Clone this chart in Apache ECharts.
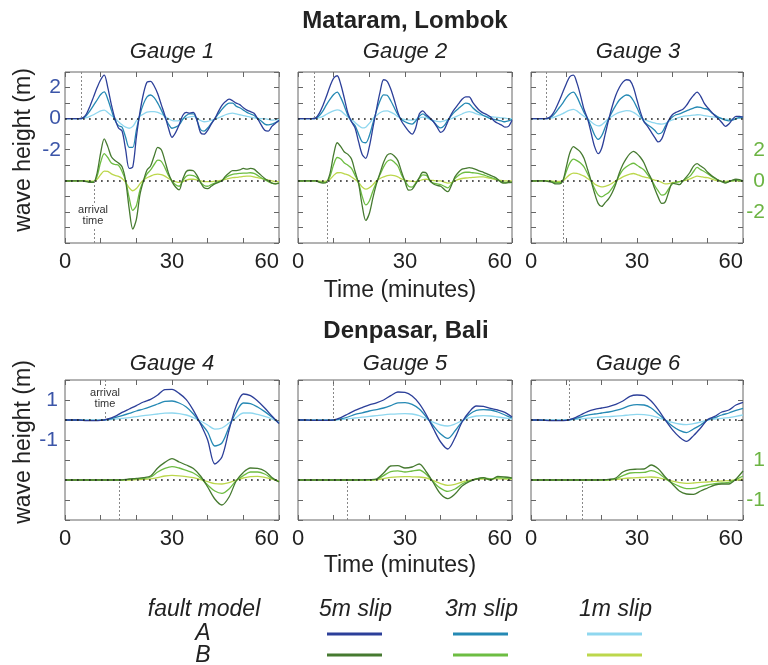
<!DOCTYPE html>
<html>
<head>
<meta charset="utf-8">
<script src="https://cdn.jsdelivr.net/npm/echarts@6/dist/echarts.min.js"></script>
<style>
  html, body { margin: 0; padding: 0; background: #fff; }
  #chart { width: 768px; height: 665px; }
</style>
</head>
<body>
<div id="chart"></div>
<script>
// time axes (minutes)
const timeTop = [0,1,2,3,4,5,6,7,8,9,10,11,12,13,14,15,16,17,18,19,20,21,22,23,24,25,26,27,28,29,30,
  31,32,33,34,35,36,37,38,39,40,41,42,43,44,45,46,47,48,49,50,51,52,53,54,55,56,57,58,59,60];
const timeBottom = [0,2,4,6,8,10,12,14,16,18,20,22,24,26,28,30,32,34,36,38,40,42,44,46,48,50,52,54,56,58,60];

// ---- Mataram, Lombok ----
const g1A5 = [0,0,0,0,0, 0.05,0.3,0.8,1.4,2.0,2.5, 2.8,2.0,0.9,0.0,-0.6,-0.8,-2.0,-3.2,-3.1,-1.2,
  0.4,1.6,2.35,2.4,2.1,1.6,0.9,0.2,-0.6,-1.2, -0.9,-0.4,0.2,0.4,0.35,0.4,-0.1,-0.9,-1.0,-0.75,
  -0.35,0.0,0.45,0.85,1.1,1.25,1.15,1.0,0.9,0.7, 0.55,0.45,0.35,0.0,-0.4,-0.75,-0.8,-0.5,-0.3,-0.1];
const g1A3 = [0,0,0,0,0, 0.03,0.2,0.5,0.85,1.2,1.55, 1.72,1.25,0.55,-0.1,-0.45,-0.55,-1.2,-1.85,-1.85,-0.75,
  0.25,0.95,1.4,1.52,1.35,1.0,0.55,0.1,-0.35,-0.62, -0.55,-0.4,-0.05,0.2,0.3,0.3,-0.1,-0.7,-0.8,-0.6,
  -0.3,0.0,0.3,0.6,0.85,1.0,1.0,0.8,0.7,0.55, 0.4,0.3,0.2,0.0,-0.15,-0.35,-0.4,-0.35,-0.25,-0.15];
const g1A1 = [0,0,0,0,0, 0.01,0.06,0.15,0.25,0.38,0.5, 0.55,0.4,0.2,0.02,-0.2,-0.4,-0.55,-0.62,-0.5,-0.15,
  0.15,0.3,0.42,0.45,0.45,0.4,0.3,0.15,0.0,-0.12, -0.15,-0.12,-0.02,0.05,0.12,0.15,0.05,-0.12,-0.2,-0.18,
  -0.1,-0.05,0.05,0.15,0.25,0.32,0.35,0.3,0.25,0.2, 0.15,0.1,0.05,0.02,0.0,0.0,-0.05,-0.1,-0.08,-0.05];
const g1B5 = [0,0,0,0,0,0, -0.05,-0.1,-0.1,0.5,1.8, 2.7,2.2,1.55,1.3,1.15,0.9,0.0,-1.8,-3.1,-2.5,
  -0.9,0.0,0.7,0.95,1.6,2.15,2.0,1.3,0.5,-0.05, -0.4,-0.58,0.1,0.6,0.68,0.65,0.35,-0.1,-0.45,-0.5,
  -0.35,-0.2,-0.1,0.0,0.3,0.5,0.65,0.65,0.7,0.8, 0.75,0.8,0.75,0.55,0.35,0.15,0.0,-0.15,-0.2,-0.15];
const g1B3 = [0,0,0,0,0,0, -0.03,-0.06,-0.06,0.3,1.2, 1.75,1.5,1.15,1.05,1.0,0.6,0.0,-1.1,-1.9,-1.6,
  -0.6,0.0,0.45,0.7,1.05,1.33,1.25,0.85,0.35,0.0, -0.25,-0.35,0.0,0.3,0.36,0.33,0.2,-0.1,-0.3,-0.35,
  -0.25,-0.15,-0.05,0.0,0.2,0.33,0.42,0.45,0.48,0.5, 0.5,0.52,0.48,0.35,0.2,0.08,-0.05,-0.15,-0.2,-0.15];
const g1B1 = [0,0,0,0,0,0, 0,-0.02,-0.02,0.1,0.4, 0.62,0.6,0.45,0.35,0.28,0.15,-0.1,-0.45,-0.64,-0.5,
  -0.2,0.05,0.2,0.3,0.4,0.43,0.4,0.3,0.15,0.02, -0.05,-0.1,-0.05,0.05,0.1,0.1,0.05,0.0,-0.05,-0.05,
  -0.05,-0.02,0.0,0.05,0.1,0.15,0.2,0.22,0.25,0.28, 0.3,0.3,0.25,0.2,0.15,0.1,0.05,0.0,-0.05,-0.05];

const g2A5 = [0,0,0,0,0, 0.05,0.35,0.85,1.45,2.1,2.6, 2.76,2.2,1.3,0.35,-0.2,-0.6,-1.5,-2.3,-2.55,-1.8,
  -0.6,0.6,1.7,2.5,2.4,1.9,1.2,0.4,-0.15,-0.5, -0.8,-1.0,-0.6,0.3,0.5,0.25,0.05,-0.2,-0.55,-0.88,
  -0.7,-0.2,0.3,0.65,0.95,1.25,1.4,1.4,1.05,0.75, 0.5,0.35,0.25,0.1,-0.15,-0.3,-0.4,-0.55,-0.5,-0.1];
const g2A3 = [0,0,0,0,0, 0.03,0.2,0.5,0.9,1.25,1.55, 1.7,1.35,0.8,0.2,-0.2,-0.45,-1.0,-1.5,-1.55,-1.1,
  -0.3,0.5,1.15,1.53,1.5,1.15,0.7,0.25,-0.05,-0.2, -0.3,-0.35,-0.15,0.15,0.3,0.15,0.0,-0.2,-0.45,-0.6,
  -0.45,-0.1,0.2,0.45,0.65,0.85,1.0,0.95,0.7,0.5, 0.35,0.2,0.1,0.0,-0.05,-0.1,-0.15,-0.2,-0.15,-0.05];
const g2A1 = [0,0,0,0,0, 0.01,0.06,0.15,0.28,0.4,0.5, 0.56,0.5,0.3,0.1,-0.05,-0.25,-0.45,-0.6,-0.55,-0.3,
  0.0,0.2,0.38,0.48,0.5,0.42,0.3,0.12,0.0,-0.06, -0.1,-0.1,-0.05,0.05,0.1,0.05,-0.05,-0.12,-0.18,-0.2,
  -0.15,-0.05,0.0,0.1,0.2,0.3,0.4,0.45,0.4,0.3, 0.25,0.2,0.15,0.12,0.1,0.08,0.05,0.03,0.0,0.0];
const g2B5 = [0,0,0,0,0,0, -0.1,-0.15,-0.1,0.5,1.7, 2.45,2.2,1.85,1.7,1.4,0.6,-0.2,-1.6,-2.55,-2.1,
  -1.1,-0.2,0.5,1.2,1.65,1.75,1.6,1.3,0.6,-0.05, -0.6,-0.55,-0.2,0.2,0.55,0.5,0.0,-0.2,-0.3,-0.35,
  -0.55,-0.7,-0.3,0.25,0.55,0.75,0.8,0.85,0.8,0.72, 0.62,0.55,0.45,0.35,0.25,0.1,-0.1,-0.15,-0.12,-0.1];
const g2B3 = [0,0,0,0,0,0, -0.05,-0.1,-0.08,0.3,1.05, 1.5,1.4,1.15,1.0,0.8,0.35,-0.15,-1.0,-1.55,-1.3,
  -0.65,-0.1,0.4,0.9,1.25,1.35,1.2,0.95,0.4,0.0, -0.35,-0.4,-0.15,0.15,0.38,0.35,0.0,-0.15,-0.2,-0.25,
  -0.35,-0.45,-0.2,0.15,0.35,0.5,0.55,0.55,0.52,0.5, 0.45,0.38,0.3,0.22,0.15,0.05,-0.05,-0.1,-0.1,-0.1];
const g2B1 = [0,0,0,0,0,0, -0.02,-0.03,-0.02,0.1,0.35, 0.52,0.53,0.45,0.38,0.25,0.08,-0.1,-0.4,-0.54,-0.45,
  -0.25,0.0,0.15,0.25,0.33,0.36,0.33,0.25,0.12,0.05, 0.0,-0.03,-0.05,0.0,0.08,0.1,0.05,0.02,0.0,0.0,
  -0.08,-0.15,-0.12,0.0,0.1,0.15,0.18,0.2,0.22,0.24, 0.25,0.25,0.2,0.15,0.1,0.05,0.02,0.0,0.0,0.0];

const g3A5 = [0,0,0,0,0, 0.05,0.25,0.65,1.15,1.7,2.25, 2.7,2.8,2.3,1.5,0.6,0.0,-0.9,-1.8,-2.25,-1.9,
  -1.0,-0.05,0.8,1.5,2.0,2.35,2.5,2.45,2.0,1.2, 0.4,-0.2,-0.5,-0.85,-1.2,-1.5,-1.3,-0.7,-0.1,0.25,
  0.4,0.5,0.6,0.85,1.2,1.5,1.7,1.45,1.0,0.7, 0.45,0.2,0.0,-0.25,-0.5,-0.35,-0.05,0.15,0.15,0.1];
const g3A3 = [0,0,0,0,0, 0.03,0.15,0.4,0.7,1.0,1.35, 1.6,1.7,1.4,0.9,0.4,0.0,-0.5,-1.05,-1.33,-1.1,
  -0.55,0.0,0.45,0.85,1.2,1.4,1.52,1.45,1.15,0.7, 0.2,-0.2,-0.4,-0.55,-0.75,-0.98,-0.9,-0.5,-0.1,0.1,
  0.25,0.3,0.4,0.5,0.6,0.68,0.75,0.72,0.65,0.6, 0.4,0.25,0.1,0.0,-0.1,-0.15,-0.1,0.0,0.08,0.1];
const g3A1 = [0,0,0,0,0, 0.01,0.05,0.13,0.22,0.32,0.45, 0.55,0.6,0.5,0.32,0.15,0.0,-0.2,-0.38,-0.47,-0.4,
  -0.2,0.0,0.15,0.3,0.4,0.47,0.51,0.5,0.4,0.25, 0.08,-0.05,-0.15,-0.22,-0.28,-0.33,-0.35,-0.3,-0.18,-0.08,
  0.0,0.08,0.15,0.18,0.2,0.22,0.25,0.24,0.2,0.16, 0.12,0.1,0.05,0.0,-0.03,-0.05,-0.03,0.0,0.03,0.05];
const g3B5 = [0,0,0,0,0, -0.05,-0.1,-0.2,-0.2,0.0,0.9, 1.8,2.2,2.05,1.85,1.45,0.75,0.0,-0.8,-1.45,-1.65,
  -1.4,-1.15,-0.75,-0.2,0.5,1.05,1.45,1.75,1.9,1.75, 1.5,1.15,0.6,0.15,-0.5,-1.05,-1.45,-1.35,-0.7,-0.15,
  -0.2,-0.25,0.0,0.25,0.55,0.95,1.1,0.95,0.8,0.55, 0.35,0.2,0.05,-0.05,-0.15,-0.05,0.05,0.1,0.08,0.0];
const g3B3 = [0,0,0,0,0, -0.02,-0.05,-0.12,-0.12,0.0,0.6, 1.15,1.4,1.3,1.15,0.9,0.45,0.0,-0.5,-0.9,-1.03,
  -0.9,-0.75,-0.45,-0.1,0.35,0.7,0.9,1.05,1.13,1.0, 0.85,0.7,0.4,0.1,-0.3,-0.65,-0.92,-0.85,-0.5,-0.2,
  -0.1,-0.05,0.0,0.15,0.3,0.6,0.86,0.72,0.6,0.45, 0.3,0.15,0.05,-0.05,-0.1,-0.05,0.0,0.05,0.03,0.0];
const g3B1 = [0,0,0,0,0, 0,-0.02,-0.03,-0.03,0.0,0.2, 0.4,0.5,0.48,0.4,0.3,0.15,0.0,-0.2,-0.33,-0.39,
  -0.35,-0.28,-0.15,0.0,0.12,0.25,0.35,0.43,0.47,0.4, 0.32,0.25,0.2,0.12,0.05,0.0,-0.1,-0.2,-0.18,-0.12,
  -0.1,-0.05,0.0,0.05,0.12,0.22,0.3,0.27,0.22,0.2, 0.12,0.05,0.0,-0.03,-0.03,0.0,0.0,0.0,0.0,0.0];

// ---- Denpasar, Bali ----
const g4A5 = [0,0,0,-0.03,-0.03,-0.02, 0.05,0.18,0.38,0.55,0.72, 0.9,1.03,1.25,1.52,1.53,
  1.33,1.02,0.48,-0.2,-1.0, -2.2,-1.85,-0.5,0.7,1.3, 1.22,0.95,0.6,0.2,-0.18];
const g4A3 = [0,0,0,-0.02,-0.02,-0.01, 0.03,0.12,0.22,0.33,0.45, 0.55,0.67,0.8,0.93,0.95,
  0.85,0.65,0.3,-0.15,-0.6, -1.3,-1.15,-0.35,0.4,0.85, 0.82,0.65,0.42,0.15,-0.15];
const g4A1 = [0,0,0,0,0,0, 0.01,0.04,0.08,0.12,0.17, 0.22,0.26,0.3,0.34,0.35,
  0.32,0.25,0.12,-0.05,-0.25, -0.46,-0.4,-0.15,0.12,0.35, 0.35,0.28,0.18,0.05,-0.1];
const g4B5 = [0,0,0,0,0,0, 0,0,0.01,0.05,0.08, 0.12,0.2,0.6,0.88,1.07,
  0.9,0.75,0.58,0.2,-0.35, -0.95,-1.25,-0.85,-0.05,0.38, 0.6,0.58,0.45,0.13,-0.1];
const g4B3 = [0,0,0,0,0,0, 0,0,0,0.03,0.06, 0.08,0.15,0.4,0.58,0.67,
  0.6,0.48,0.35,0.1,-0.25, -0.55,-0.67,-0.45,-0.03,0.22, 0.4,0.4,0.3,0.08,-0.08];
const g4B1 = [0,0,0,0,0,0, 0,0,0,0,0.02, 0.03,0.06,0.12,0.2,0.23,
  0.21,0.17,0.12,0.02,-0.08, -0.18,-0.2,-0.13,0.0,0.1, 0.17,0.18,0.13,0.05,-0.05];

const g5A5 = [0,0,-0.02,-0.02,-0.02,0.0, 0.12,0.3,0.48,0.62,0.76, 0.86,1.0,1.22,1.4,1.38,
  1.2,0.82,0.25,-0.45,-1.1, -1.45,-0.9,-0.1,0.4,0.7, 0.68,0.58,0.5,0.38,0.15];
const g5A3 = [0,0,-0.01,-0.01,-0.01,0.0, 0.06,0.15,0.28,0.36,0.45, 0.52,0.6,0.72,0.86,0.87,
  0.78,0.55,0.15,-0.3,-0.7, -0.92,-0.55,-0.08,0.28,0.48, 0.52,0.5,0.4,0.25,0.1];
const g5A1 = [0,0,0,0,0,0, 0.02,0.06,0.1,0.14,0.18, 0.22,0.26,0.29,0.31,0.32,
  0.3,0.22,0.06,-0.12,-0.25, -0.3,-0.2,-0.03,0.12,0.2, 0.22,0.2,0.15,0.1,0.05];
const g5B5 = [0,0,0,0,0,0, 0,0,0,0.01,0.02, 0.05,0.35,0.7,0.72,0.6,
  0.65,0.8,0.4,-0.15,-0.7, -0.93,-0.7,-0.3,-0.08,0.05, 0.12,0.0,0.18,0.15,0.1];
const g5B3 = [0,0,0,0,0,0, 0,0,0,0,0.01, 0.03,0.22,0.42,0.46,0.4,
  0.45,0.5,0.28,-0.1,-0.42, -0.57,-0.45,-0.2,-0.05,0.05, 0.1,0.05,0.12,0.1,0.08];
const g5B1 = [0,0,0,0,0,0, 0,0,0,0,0, 0.01,0.07,0.13,0.16,0.17,
  0.16,0.15,0.1,-0.03,-0.18, -0.27,-0.22,-0.1,-0.02,0.04, 0.05,0.05,0.06,0.05,0.05];

const g6A5 = [0,0,-0.02,-0.03,-0.03,-0.02, 0.08,0.25,0.42,0.53,0.6, 0.67,0.78,0.95,1.18,1.25,
  1.22,0.95,0.52,0.0,-0.48, -0.85,-1.07,-0.78,-0.4,0.02, 0.18,0.4,0.5,0.75,0.88];
const g6A3 = [0,0,-0.01,-0.02,-0.02,-0.01, 0.05,0.15,0.24,0.3,0.35, 0.4,0.48,0.58,0.72,0.77,
  0.75,0.6,0.3,0.0,-0.3, -0.52,-0.63,-0.45,-0.25,0.0, 0.12,0.25,0.35,0.48,0.58];
const g6A1 = [0,0,0,0,0,0, 0.02,0.05,0.09,0.12,0.15, 0.17,0.19,0.22,0.26,0.28,
  0.27,0.22,0.12,0.0,-0.12, -0.2,-0.23,-0.18,-0.1,0.0, 0.05,0.08,0.12,0.18,0.25];
const g6B5 = [0,0,0,0,0,0, 0,0,0,0,0.01, 0.03,0.1,0.4,0.52,0.54,
  0.55,0.75,0.56,0.15,-0.2, -0.55,-0.7,-0.72,-0.55,-0.4, -0.25,-0.2,-0.2,0.05,0.45];
const g6B3 = [0,0,0,0,0,0, 0,0,0,0,0, 0.01,0.06,0.22,0.35,0.37,
  0.38,0.47,0.35,0.08,-0.15, -0.32,-0.43,-0.42,-0.33,-0.25, -0.18,-0.15,-0.12,0.02,0.2];
const g6B1 = [0,0,0,0,0,0, 0,0,0,0,0, 0.0,0.03,0.07,0.1,0.12,
  0.13,0.15,0.12,0.03,-0.06, -0.13,-0.17,-0.15,-0.12,-0.1, -0.07,-0.05,-0.03,0.0,0.05];

// arrival times (minutes), fault model A / B
const arrivalA = [4.5, 4.5, 4.4, 11.2, 9.8, 10.7];
const arrivalB = [8.2, 8.1, 9.0, 15.1, 13.9, 14.6];

const gaugeNames = ['Gauge 1', 'Gauge 2', 'Gauge 3', 'Gauge 4', 'Gauge 5', 'Gauge 6'];
const slipNames = ['5m slip', '3m slip', '1m slip'];
const blueTicksTop = [2, 0, -2];
const greenTicksTop = [2, 0, -2];
const blueTicksBottom = [1, -1];
const greenTicksBottom = [1, -1];

const panels = [
  { t: timeTop, A: [g1A5, g1A3, g1A1], B: [g1B5, g1B3, g1B1] },
  { t: timeTop, A: [g2A5, g2A3, g2A1], B: [g2B5, g2B3, g2B1] },
  { t: timeTop, A: [g3A5, g3A3, g3A1], B: [g3B5, g3B3, g3B1] },
  { t: timeBottom, A: [g4A5, g4A3, g4A1], B: [g4B5, g4B3, g4B1] },
  { t: timeBottom, A: [g5A5, g5A3, g5A1], B: [g5B5, g5B3, g5B1] },
  { t: timeBottom, A: [g6A5, g6A3, g6A1], B: [g6B5, g6B3, g6B1] }
];

// styling / layout
const colorsA = ['#2c3f99', '#2589b4', '#8fd7ef'];
const colorsB = ['#467a30', '#6dbd42', '#bcd74c'];
const blueText = '#3b55a8';
const greenText = '#6cb443';
const FONT = '"Liberation Sans", Arial, sans-serif';
const gridLeft = [65, 298, 531];
const gridWidth = 214;
const rowTop = [72, 380];
const rowHeight = [171, 140];
const blueRange = [[-8, 3], [-5, 2]];
const greenRange = [[-4, 7], [-2, 5]];

const chart = echarts.init(document.getElementById('chart'), null, { renderer: 'canvas' });

const option = {
  animation: false,
  grid: [], xAxis: [], yAxis: [], series: [], graphic: []
};

const tickStyle = { inside: true, length: 5, lineStyle: { color: '#666' } };

panels.forEach((p, i) => {
  const row = i < 3 ? 0 : 1;
  const col = i % 3;
  const bTicks = row === 0 ? blueTicksTop : blueTicksBottom;
  const gTicks = row === 0 ? greenTicksTop : greenTicksBottom;

  option.grid.push({
    left: gridLeft[col], top: rowTop[row], width: gridWidth, height: rowHeight[row],
    show: true, borderColor: '#666', borderWidth: 1, backgroundColor: 'transparent'
  });
  option.xAxis.push({
    gridIndex: i, type: 'value', position: 'bottom', min: 0, max: 60, interval: 10,
    axisLine: { show: false, onZero: false }, splitLine: { show: false },
    axisTick: tickStyle,
    axisLabel: {
      fontSize: 22, fontFamily: FONT, color: '#222', margin: 8,
      alignMaxLabel: 'right',
      formatter: v => (v % 30 === 0 ? String(v) : '')
    }
  });
  option.xAxis.push({
    gridIndex: i, type: 'value', position: 'top', min: 0, max: 60, interval: 10,
    axisLine: { show: false, onZero: false }, splitLine: { show: false },
    axisTick: tickStyle, axisLabel: { show: false }
  });
  // left axis for fault model A (blue)
  option.yAxis.push({
    gridIndex: i, type: 'value', position: 'left',
    min: blueRange[row][0], max: blueRange[row][1], interval: 1,
    axisLine: { show: false, onZero: false }, splitLine: { show: false },
    axisTick: tickStyle,
    axisLabel: {
      show: col === 0, fontSize: 21, fontFamily: FONT, color: blueText, margin: row === 0 ? 4 : 7,
      formatter: v => (bTicks.indexOf(v) >= 0 ? String(v) : '')
    }
  });
  // right axis for fault model B (green), shifted zero
  option.yAxis.push({
    gridIndex: i, type: 'value', position: 'right',
    min: greenRange[row][0], max: greenRange[row][1], interval: 1,
    axisLine: { show: false, onZero: false }, splitLine: { show: false },
    axisTick: tickStyle,
    axisLabel: {
      show: col === 2, fontSize: 21, fontFamily: FONT, color: greenText, margin: 22, align: 'right',
      formatter: v => (gTicks.indexOf(v) >= 0 ? String(v) : '')
    }
  });

  const groups = [
    { vals: p.A, colors: colorsA, yIdx: 2 * i, top: blueRange[row][1], arr: arrivalA[i] },
    { vals: p.B, colors: colorsB, yIdx: 2 * i + 1, top: greenRange[row][0], arr: arrivalB[i] }
  ];
  groups.forEach(g => {
    [2, 1, 0].forEach(k => {
      const s = {
        type: 'line', xAxisIndex: 2 * i, yAxisIndex: g.yIdx,
        data: p.t.map((t, j) => [t, g.vals[k][j]]),
        symbol: 'none', smooth: 0.3, silent: true,
        lineStyle: { color: g.colors[k], width: 1.3 },
        emphasis: { disabled: true }
      };
      if (k === 0) {
        s.markLine = {
          silent: true, symbol: ['none', 'none'], label: { show: false },
          animation: false,
          data: [
            { yAxis: 0, lineStyle: { color: '#222', width: 1.7, type: [1.7, 4.3] } },
            [
              { coord: [g.arr, g.top], lineStyle: { color: '#888', width: 1, type: [2, 2] } },
              { coord: [g.arr, 0] }
            ]
          ]
        };
      }
      option.series.push(s);
    });
  });

  option.graphic.push({
    type: 'text', x: gridLeft[col] + gridWidth / 2, y: row === 0 ? 52 : 364,
    style: { text: gaugeNames[i], font: 'italic 22px ' + FONT, fill: '#222', align: 'center', verticalAlign: 'middle' }
  });
});

const textEl = (text, x, y, font, extra) => Object.assign({
  type: 'text', x: x, y: y, z: 50,
  style: { text: text, font: font, fill: '#222', align: 'center', verticalAlign: 'middle' }
}, extra || {});

option.graphic.push(
  textEl('Mataram, Lombok', 405, 21, 'bold 24px ' + FONT),
  textEl('Denpasar, Bali', 406, 331, 'bold 24px ' + FONT),
  textEl('wave height (m)', 24, 150, '23px ' + FONT, { rotation: Math.PI / 2 }),
  textEl('wave height (m)', 24, 442, '23px ' + FONT, { rotation: Math.PI / 2 }),
  textEl('Time (minutes)', 400, 291, '23px ' + FONT),
  textEl('Time (minutes)', 400, 566, '23px ' + FONT),
  {
    type: 'text', x: 93, y: 215, z: 50,
    style: { text: 'arrival\ntime', font: '11px ' + FONT, fill: '#333', align: 'center', verticalAlign: 'middle',
      lineHeight: 11, backgroundColor: '#fff', padding: [1, 0] }
  },
  {
    type: 'text', x: 105, y: 398, z: 50,
    style: { text: 'arrival\ntime', font: '11px ' + FONT, fill: '#333', align: 'center', verticalAlign: 'middle',
      lineHeight: 11, backgroundColor: '#fff', padding: [1, 0] }
  },
  // legend block
  textEl('fault model', 204, 610, 'italic 23px ' + FONT),
  textEl('A', 203, 634, 'italic 23px ' + FONT),
  textEl('B', 203, 656, 'italic 23px ' + FONT)
);

const legendX = [354.5, 480.5, 614.5];
slipNames.forEach((name, k) => {
  option.graphic.push(textEl(name, legendX[k] + 1, 610, 'italic 23px ' + FONT));
  option.graphic.push({
    type: 'line', z: 50, shape: { x1: legendX[k] - 27.5, y1: 634, x2: legendX[k] + 27.5, y2: 634 },
    style: { stroke: colorsA[k], lineWidth: 3 }
  });
  option.graphic.push({
    type: 'line', z: 50, shape: { x1: legendX[k] - 27.5, y1: 655, x2: legendX[k] + 27.5, y2: 655 },
    style: { stroke: colorsB[k], lineWidth: 3 }
  });
});

chart.setOption(option);
</script>
</body>
</html>
